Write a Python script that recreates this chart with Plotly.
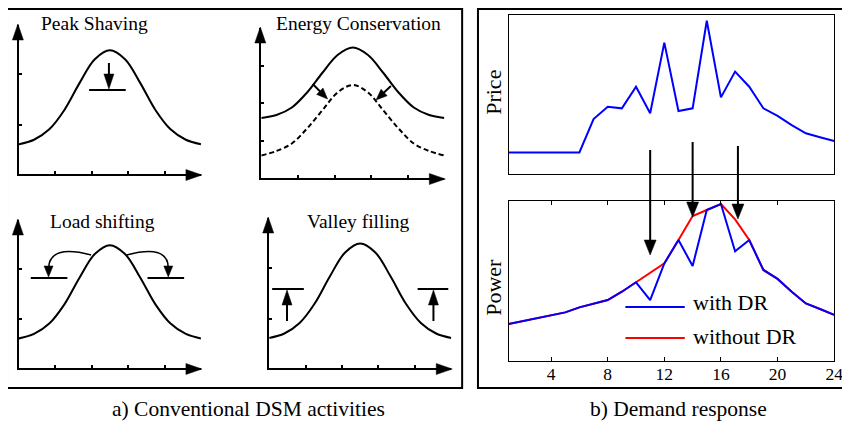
import math
import plotly.graph_objects as go

W, H = 850, 422
OFF = 8  # page body margin: screenshot pixel = figure pixel + 8
FONT = "Liberation Serif"

# ---------------- data ----------------
hours = list(range(1, 25))
price = [1.36, 1.36, 1.36, 1.36, 1.36, 1.36, 3.46, 4.23, 4.13, 5.49, 3.82, 8.26,
         3.96, 4.13, 9.64, 4.82, 6.44, 5.49, 4.13, 3.65, 3.08, 2.56, 2.31, 2.08]
power_with_dr = [2.31, 2.50, 2.67, 2.85, 3.04, 3.35, 3.60, 3.81, 4.33, 4.92, 3.81, 6.10,
                 7.56, 5.94, 9.44, 9.81, 6.85, 7.56, 5.69, 5.13, 4.33, 3.60, 3.25, 2.88]
power_without_dr = [2.31, 2.50, 2.67, 2.85, 3.04, 3.35, 3.60, 3.81, 4.33, 4.92, 5.52, 6.10,
                    7.56, 9.06, 9.44, 9.81, 8.85, 7.56, 5.69, 5.13, 4.33, 3.60, 3.25, 2.88]
hour_ticks = [4, 8, 12, 16, 20, 24]

# schematic load profiles (normalised time 0..1)
sketch_t = [0.0, 0.083, 0.167, 0.25, 0.333, 0.417, 0.5, 0.583, 0.667, 0.75, 0.833, 0.917, 1.0]
typical_load = [0.20, 0.23, 0.30, 0.43, 0.61, 0.77, 0.83, 0.77, 0.61, 0.43, 0.30, 0.23, 0.20]
load_before = [0.40, 0.42, 0.47, 0.57, 0.70, 0.82, 0.87, 0.82, 0.70, 0.57, 0.47, 0.42, 0.40]
load_after = [0.15, 0.18, 0.23, 0.33, 0.45, 0.57, 0.62, 0.57, 0.45, 0.33, 0.23, 0.18, 0.15]

titles = ["Peak Shaving", "Energy Conservation", "Load shifting", "Valley filling"]
captions = ["a) Conventional DSM activities", "b) Demand response"]
legend_names = ["with DR", "without DR"]

# ---------------- helpers ----------------
def px(x):
    return (x - OFF) / W

def py(y):
    return 1 - (y - OFF) / H

def dom_x(a, b):
    return [px(a), px(b)]

def dom_y(top, bottom):
    return [py(bottom), py(top)]

shapes = []
annotations = []

def head_px(tip, ux, uy, L, Wd):
    """filled arrow head, tip in screenshot pixels, direction (ux,uy) with y down"""
    n = math.hypot(ux, uy)
    ux, uy = ux / n, -uy / n  # to y-up
    bx, by = -ux * L, -uy * L
    nx, ny = -uy, ux
    p1 = (bx + nx * Wd / 2, by + ny * Wd / 2)
    p2 = (bx - nx * Wd / 2, by - ny * Wd / 2)
    path = f"M0,0 L{p1[0]:.2f},{p1[1]:.2f} L{p2[0]:.2f},{p2[1]:.2f} Z"
    shapes.append(dict(type="path", xref="paper", yref="paper", xsizemode="pixel",
                       ysizemode="pixel", xanchor=px(tip[0]), yanchor=py(tip[1]),
                       path=path, fillcolor="black", line=dict(color="black", width=0.5)))

def arrow_px(tail, tip, L, Wd, lw=2):
    ddx, ddy = tip[0] - tail[0], tip[1] - tail[1]
    n = math.hypot(ddx, ddy)
    ux, uy = ddx / n, ddy / n
    back = L * 0.6
    end = (tip[0] - ux * back, tip[1] - uy * back)
    shapes.append(dict(type="line", xref="paper", yref="paper", x0=px(tail[0]),
                       y0=py(tail[1]), x1=px(end[0]), y1=py(end[1]),
                       line=dict(color="black", width=lw)))
    head_px(tip, ux, uy, L, Wd)

def hline_px(x0, x1, y, lw=2):
    shapes.append(dict(type="line", xref="paper", yref="paper", x0=px(x0), x1=px(x1),
                       y0=py(y), y1=py(y), line=dict(color="black", width=lw)))

fig = go.Figure()

# ---------------- schematic panels ----------------
boxes = [(19, 203, 25, 174), (264, 449, 28, 178), (19, 203, 220, 368), (272, 456, 218, 368)]
yticks = [[0.33, 0.67], [0.25, 0.5, 0.75], [0.33, 0.67], [0.33, 0.67]]

layout_axes = {}
for i, ((l, r, t, b), yt) in enumerate(zip(boxes, yticks), start=1):
    sfx = "" if i == 1 else str(i)
    common = dict(range=[0, 1], showline=True, linecolor="black", linewidth=2,
                  ticks="inside", ticklen=3, tickwidth=1.5, tickcolor="black",
                  showticklabels=False, showgrid=False, zeroline=False, fixedrange=True)
    layout_axes["xaxis" + sfx] = dict(common, domain=dom_x(l, r), anchor="y" + sfx,
                                      tickvals=[0.2, 0.4, 0.6, 0.8])
    layout_axes["yaxis" + sfx] = dict(common, domain=dom_y(t, b), anchor="x" + sfx,
                                      tickvals=yt)
    # axis arrowheads
    head_px((r + 1, b + 1), 1, 0, 16, 11)
    head_px((l - 1, t - 1), 0, -1, 16, 11)

line_black = dict(color="black", width=2, shape="spline", smoothing=1)
fig.add_trace(go.Scatter(x=sketch_t, y=typical_load, xaxis="x", yaxis="y", mode="lines",
                         line=line_black, cliponaxis=False, showlegend=False))
fig.add_trace(go.Scatter(x=sketch_t, y=load_before, xaxis="x2", yaxis="y2", mode="lines",
                         line=line_black, cliponaxis=False, showlegend=False))
fig.add_trace(go.Scatter(x=sketch_t, y=load_after, xaxis="x2", yaxis="y2", mode="lines",
                         line=dict(line_black, dash="5px,3px"), cliponaxis=False,
                         showlegend=False))
fig.add_trace(go.Scatter(x=sketch_t, y=typical_load, xaxis="x3", yaxis="y3", mode="lines",
                         line=line_black, cliponaxis=False, showlegend=False))
fig.add_trace(go.Scatter(x=sketch_t, y=typical_load, xaxis="x4", yaxis="y4", mode="lines",
                         line=line_black, cliponaxis=False, showlegend=False))

# Peak shaving marker
hline_px(90, 127, 90)
arrow_px((110, 63), (110, 89), 15, 10)
# Energy conservation arrows
arrow_px((316, 84), (331, 99), 11, 9)
arrow_px((395, 86), (380, 100), 11, 9)
# Load shifting
hline_px(31, 68, 278)
hline_px(149, 186, 278)
def qpath(p0, c, p1):
    return (f"M {px(p0[0]):.5f},{py(p0[1]):.5f} Q {px(c[0]):.5f},{py(c[1]):.5f} "
            f"{px(p1[0]):.5f},{py(p1[1]):.5f}")
shapes.append(dict(type="path", xref="paper", yref="paper",
                   path=qpath((92, 255), (50, 244), (49, 268)),
                   line=dict(color="black", width=1.5)))
shapes.append(dict(type="path", xref="paper", yref="paper",
                   path=qpath((128, 255), (170, 244), (170, 268)),
                   line=dict(color="black", width=1.5)))
head_px((49, 277), 0, 1, 11, 9)
head_px((170, 277), 0, 1, 11, 9)
# Valley filling
hline_px(275, 307, 289)
hline_px(422, 453, 289)
arrow_px((290, 321), (290, 290), 15, 10)
arrow_px((438, 321), (438, 290), 15, 10)

title_pos = [(95, 24), (362, 24), (104, 221), (362, 221)]
for txt, (x, y) in zip(titles, title_pos):
    annotations.append(dict(text=txt, x=px(x), y=py(y), xref="paper", yref="paper",
                            showarrow=False, xanchor="center", yanchor="middle",
                            font=dict(family=FONT, size=19.5, color="black")))

# ---------------- demand response panels ----------------
frame = dict(showline=True, linecolor="black", linewidth=1.3, mirror=True,
             showgrid=False, zeroline=False, fixedrange=True)
layout_axes["xaxis5"] = dict(frame, domain=dom_x(514, 843), anchor="y5", range=[1, 24],
                             ticks="", showticklabels=False)
layout_axes["yaxis5"] = dict(frame, domain=dom_y(15, 174), anchor="x5", range=[0, 10],
                             ticks="", showticklabels=False)
layout_axes["xaxis6"] = dict(frame, domain=dom_x(514, 843), anchor="y6", range=[1, 24],
                             mirror="ticks", ticks="inside", ticklen=4, tickwidth=1,
                             tickcolor="black", tickvals=hour_ticks, ticklabelstandoff=-3,
                             tickfont=dict(family=FONT, size=17.5, color="black"))
layout_axes["yaxis6"] = dict(frame, domain=dom_y(201, 361), anchor="x6", range=[0, 10],
                             ticks="", showticklabels=False)

fig.add_trace(go.Scatter(x=hours, y=price, xaxis="x5", yaxis="y5", mode="lines",
                         line=dict(color="#0000ff", width=2), showlegend=False))
fig.add_trace(go.Scatter(x=hours, y=power_without_dr, xaxis="x6", yaxis="y6", mode="lines",
                         line=dict(color="#ff0000", width=2), showlegend=False))
fig.add_trace(go.Scatter(x=hours, y=power_with_dr, xaxis="x6", yaxis="y6", mode="lines",
                         line=dict(color="#0000ff", width=2), showlegend=False))

# arrows from price to power
for hx, y0, y1 in [(11, 150, 255), (14, 142, 217), (17.2, 146, 219)]:
    xs = 514 + (hx - 1) * (843 - 514) / 23
    arrow_px((xs, y0), (xs, y1), 15, 12, lw=2)

for txt, (x, y) in zip(["Price", "Power"], [(498, 92), (498, 287)]):
    annotations.append(dict(text=txt, x=px(x), y=py(y), xref="paper", yref="paper",
                            showarrow=False, textangle=-90, xanchor="center",
                            yanchor="middle",
                            font=dict(family=FONT, size=22, color="black")))

# manual legend
for name, col, ly, ty in zip(legend_names, ["#0000ff", "#ff0000"], [307, 338], [302, 336]):
    shapes.append(dict(type="line", xref="paper", yref="paper", x0=px(632), x1=px(692),
                       y0=py(ly), y1=py(ly), line=dict(color=col, width=2)))
    annotations.append(dict(text=name, x=px(698), y=py(ty), xref="paper", yref="paper",
                            showarrow=False, xanchor="left", yanchor="middle",
                            font=dict(family=FONT, size=22, color="black")))

# outer boxes
shapes.append(dict(type="rect", xref="paper", yref="paper", x0=px(7), x1=px(467),
                   y0=py(388), y1=py(9), line=dict(color="black", width=2)))
shapes.append(dict(type="rect", xref="paper", yref="paper", x0=px(483), x1=px(870),
                   y0=py(388), y1=py(9), line=dict(color="black", width=2)))

for txt, x in zip(captions, [251, 686]):
    annotations.append(dict(text=txt, x=px(x), y=py(408.5), xref="paper", yref="paper",
                            showarrow=False, xanchor="center", yanchor="middle",
                            font=dict(family=FONT, size=21.5, color="black")))

fig.update_layout(width=W, height=H, margin=dict(l=0, r=0, t=0, b=0),
                  paper_bgcolor="white", plot_bgcolor="rgba(0,0,0,0)",
                  shapes=shapes, annotations=annotations, showlegend=False,
                  font=dict(family=FONT, color="black"), **layout_axes)

fig.write_html("out.html")
